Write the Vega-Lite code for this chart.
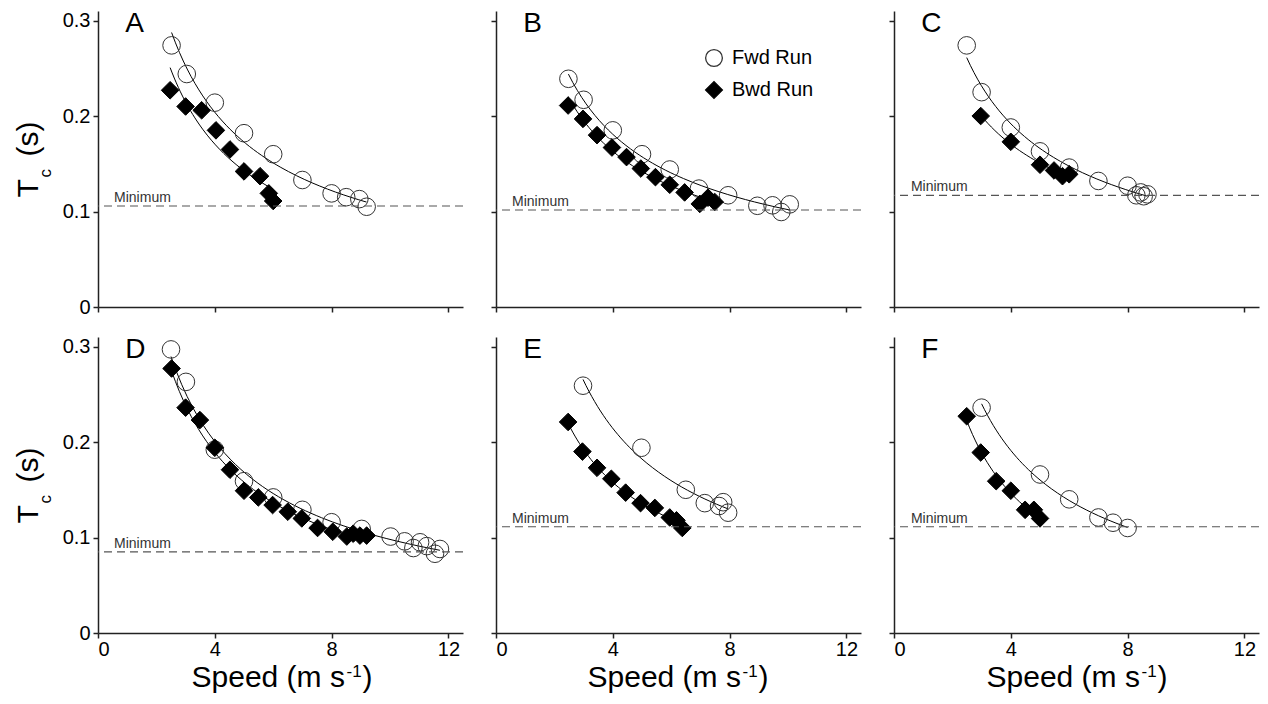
{
  "$schema": "https://vega.github.io/schema/vega-lite/v6.json",
  "background": "white",
  "padding": {"left": 13, "top": 10, "right": 5, "bottom": 5},
  "config": {
    "font": "Liberation Sans",
    "view": {"stroke": null},
    "axis": {"grid": false, "domainColor": "#222", "domainWidth": 1.5, "tickColor": "#222", "tickWidth": 1.5, "tickSize": 5, "labelFontSize": 20, "labelColor": "black", "labelPadding": 3, "labelFont": "Liberation Sans", "titleFont": "Liberation Sans", "titleColor": "black", "titleFontWeight": "normal"},
    "axisX": {"labelPadding": 1}
  },
  "datasets": {
    "pts": [
      {"p":"A","run":"Fwd Run","speed":2.52,"tc":0.274},{"p":"A","run":"Fwd Run","speed":3.04,"tc":0.244},{"p":"A","run":"Fwd Run","speed":4.0,"tc":0.214},{"p":"A","run":"Fwd Run","speed":5.0,"tc":0.182},{"p":"A","run":"Fwd Run","speed":6.0,"tc":0.160},{"p":"A","run":"Fwd Run","speed":7.0,"tc":0.133},{"p":"A","run":"Fwd Run","speed":8.0,"tc":0.119},{"p":"A","run":"Fwd Run","speed":8.5,"tc":0.115},{"p":"A","run":"Fwd Run","speed":8.95,"tc":0.113},{"p":"A","run":"Fwd Run","speed":9.2,"tc":0.105},
      {"p":"A","run":"Bwd Run","speed":2.47,"tc":0.227},{"p":"A","run":"Bwd Run","speed":3.0,"tc":0.210},{"p":"A","run":"Bwd Run","speed":3.55,"tc":0.206},{"p":"A","run":"Bwd Run","speed":4.04,"tc":0.185},{"p":"A","run":"Bwd Run","speed":4.52,"tc":0.165},{"p":"A","run":"Bwd Run","speed":5.0,"tc":0.142},{"p":"A","run":"Bwd Run","speed":5.55,"tc":0.137},{"p":"A","run":"Bwd Run","speed":5.85,"tc":0.119},{"p":"A","run":"Bwd Run","speed":6.0,"tc":0.111},
      {"p":"B","run":"Fwd Run","speed":2.48,"tc":0.239},{"p":"B","run":"Fwd Run","speed":3.0,"tc":0.217},{"p":"B","run":"Fwd Run","speed":4.0,"tc":0.185},{"p":"B","run":"Fwd Run","speed":5.0,"tc":0.160},{"p":"B","run":"Fwd Run","speed":5.95,"tc":0.144},{"p":"B","run":"Fwd Run","speed":6.95,"tc":0.124},{"p":"B","run":"Fwd Run","speed":7.95,"tc":0.117},{"p":"B","run":"Fwd Run","speed":8.95,"tc":0.106},{"p":"B","run":"Fwd Run","speed":9.47,"tc":0.1065},{"p":"B","run":"Fwd Run","speed":9.77,"tc":0.0995},{"p":"B","run":"Fwd Run","speed":10.06,"tc":0.1075},
      {"p":"B","run":"Bwd Run","speed":2.47,"tc":0.211},{"p":"B","run":"Bwd Run","speed":2.98,"tc":0.197},{"p":"B","run":"Bwd Run","speed":3.46,"tc":0.180},{"p":"B","run":"Bwd Run","speed":3.97,"tc":0.167},{"p":"B","run":"Bwd Run","speed":4.47,"tc":0.157},{"p":"B","run":"Bwd Run","speed":4.96,"tc":0.145},{"p":"B","run":"Bwd Run","speed":5.46,"tc":0.136},{"p":"B","run":"Bwd Run","speed":5.95,"tc":0.128},{"p":"B","run":"Bwd Run","speed":6.46,"tc":0.120},{"p":"B","run":"Bwd Run","speed":6.98,"tc":0.108},{"p":"B","run":"Bwd Run","speed":7.26,"tc":0.1145},{"p":"B","run":"Bwd Run","speed":7.49,"tc":0.110},
      {"p":"C","run":"Fwd Run","speed":2.49,"tc":0.274},{"p":"C","run":"Fwd Run","speed":3.0,"tc":0.225},{"p":"C","run":"Fwd Run","speed":4.0,"tc":0.188},{"p":"C","run":"Fwd Run","speed":5.0,"tc":0.163},{"p":"C","run":"Fwd Run","speed":6.0,"tc":0.146},{"p":"C","run":"Fwd Run","speed":7.0,"tc":0.132},{"p":"C","run":"Fwd Run","speed":8.0,"tc":0.127},{"p":"C","run":"Fwd Run","speed":8.3,"tc":0.117},{"p":"C","run":"Fwd Run","speed":8.45,"tc":0.120},{"p":"C","run":"Fwd Run","speed":8.55,"tc":0.116},{"p":"C","run":"Fwd Run","speed":8.68,"tc":0.118},
      {"p":"C","run":"Bwd Run","speed":2.97,"tc":0.200},{"p":"C","run":"Bwd Run","speed":4.0,"tc":0.173},{"p":"C","run":"Bwd Run","speed":5.0,"tc":0.149},{"p":"C","run":"Bwd Run","speed":5.48,"tc":0.143},{"p":"C","run":"Bwd Run","speed":5.77,"tc":0.137},{"p":"C","run":"Bwd Run","speed":6.0,"tc":0.139},
      {"p":"D","run":"Fwd Run","speed":2.5,"tc":0.297},{"p":"D","run":"Fwd Run","speed":3.01,"tc":0.263},{"p":"D","run":"Fwd Run","speed":4.0,"tc":0.192},{"p":"D","run":"Fwd Run","speed":5.0,"tc":0.159},{"p":"D","run":"Fwd Run","speed":6.0,"tc":0.142},{"p":"D","run":"Fwd Run","speed":7.0,"tc":0.129},{"p":"D","run":"Fwd Run","speed":8.0,"tc":0.116},{"p":"D","run":"Fwd Run","speed":9.03,"tc":0.109},{"p":"D","run":"Fwd Run","speed":10.02,"tc":0.101},{"p":"D","run":"Fwd Run","speed":10.5,"tc":0.096},{"p":"D","run":"Fwd Run","speed":10.8,"tc":0.089},{"p":"D","run":"Fwd Run","speed":11.03,"tc":0.095},{"p":"D","run":"Fwd Run","speed":11.26,"tc":0.091},{"p":"D","run":"Fwd Run","speed":11.54,"tc":0.083},{"p":"D","run":"Fwd Run","speed":11.71,"tc":0.088},
      {"p":"D","run":"Bwd Run","speed":2.52,"tc":0.277},{"p":"D","run":"Bwd Run","speed":3.0,"tc":0.236},{"p":"D","run":"Bwd Run","speed":3.49,"tc":0.223},{"p":"D","run":"Bwd Run","speed":4.0,"tc":0.194},{"p":"D","run":"Bwd Run","speed":4.52,"tc":0.171},{"p":"D","run":"Bwd Run","speed":5.0,"tc":0.149},{"p":"D","run":"Bwd Run","speed":5.49,"tc":0.142},{"p":"D","run":"Bwd Run","speed":5.98,"tc":0.134},{"p":"D","run":"Bwd Run","speed":6.5,"tc":0.127},{"p":"D","run":"Bwd Run","speed":6.98,"tc":0.120},{"p":"D","run":"Bwd Run","speed":7.52,"tc":0.110},{"p":"D","run":"Bwd Run","speed":8.04,"tc":0.106},{"p":"D","run":"Bwd Run","speed":8.52,"tc":0.101},{"p":"D","run":"Bwd Run","speed":8.74,"tc":0.104},{"p":"D","run":"Bwd Run","speed":8.97,"tc":0.102},{"p":"D","run":"Bwd Run","speed":9.2,"tc":0.102},
      {"p":"E","run":"Fwd Run","speed":2.98,"tc":0.259},{"p":"E","run":"Fwd Run","speed":4.98,"tc":0.194},{"p":"E","run":"Fwd Run","speed":6.5,"tc":0.150},{"p":"E","run":"Fwd Run","speed":7.15,"tc":0.136},{"p":"E","run":"Fwd Run","speed":7.64,"tc":0.133},{"p":"E","run":"Fwd Run","speed":7.78,"tc":0.137},{"p":"E","run":"Fwd Run","speed":7.95,"tc":0.126},
      {"p":"E","run":"Bwd Run","speed":2.47,"tc":0.221},{"p":"E","run":"Bwd Run","speed":2.96,"tc":0.190},{"p":"E","run":"Bwd Run","speed":3.46,"tc":0.173},{"p":"E","run":"Bwd Run","speed":3.95,"tc":0.1615},{"p":"E","run":"Bwd Run","speed":4.44,"tc":0.147},{"p":"E","run":"Bwd Run","speed":4.95,"tc":0.136},{"p":"E","run":"Bwd Run","speed":5.44,"tc":0.131},{"p":"E","run":"Bwd Run","speed":5.95,"tc":0.121},{"p":"E","run":"Bwd Run","speed":6.18,"tc":0.118},{"p":"E","run":"Bwd Run","speed":6.38,"tc":0.110},
      {"p":"F","run":"Fwd Run","speed":3.0,"tc":0.236},{"p":"F","run":"Fwd Run","speed":5.0,"tc":0.166},{"p":"F","run":"Fwd Run","speed":6.0,"tc":0.140},{"p":"F","run":"Fwd Run","speed":7.0,"tc":0.121},{"p":"F","run":"Fwd Run","speed":7.5,"tc":0.1155},{"p":"F","run":"Fwd Run","speed":8.0,"tc":0.110},
      {"p":"F","run":"Bwd Run","speed":2.49,"tc":0.227},{"p":"F","run":"Bwd Run","speed":2.97,"tc":0.189},{"p":"F","run":"Bwd Run","speed":3.5,"tc":0.159},{"p":"F","run":"Bwd Run","speed":4.0,"tc":0.149},{"p":"F","run":"Bwd Run","speed":4.49,"tc":0.129},{"p":"F","run":"Bwd Run","speed":4.79,"tc":0.129},{"p":"F","run":"Bwd Run","speed":5.0,"tc":0.120}
    ],
    "mins": [
      {"p":"A","min":0.1058},{"p":"B","min":0.1016},{"p":"C","min":0.1169},
      {"p":"D","min":0.0849},{"p":"E","min":0.1113},{"p":"F","min":0.1113}
    ]
  },
  "columns": 3,
  "bounds": "flush",
  "spacing": {"row": 30, "column": 33},
  "concat": [
    {
      "width": 365, "height": 296,
      "layer": [
        {"layer": [
          {"data": {"name": "pts"}, "transform": [{"filter": "datum.p === 'A'"}, {"regression": "tc", "on": "speed", "groupby": ["run"], "method": "pow"}],
           "mark": {"type": "line", "color": "black", "strokeWidth": 1},
           "encoding": {
             "x": {"field": "speed", "type": "quantitative", "scale": {"domain": [0, 12.5], "nice": false, "zero": false}, "axis": {"values": [0, 4, 8, 12], "labels": false, "title": null, "encode": {"ticks": {"update": {"y2": {"value": -5}}}}}},
             "y": {"field": "tc", "type": "quantitative", "scale": {"domain": [0, 0.31], "nice": false}, "axis": {"values": [0, 0.1, 0.2, 0.3], "format": "~g", "title": "T", "titleFontSize": 30, "titleAngle": 270, "titleAlign": "left", "titleBaseline": "alphabetic", "titleX": -61, "titleY": 186, "encode": {"ticks": {"update": {"x2": {"value": 5}}}}}},
             "detail": {"field": "run"}}},
          {"data": {"name": "pts"}, "transform": [{"filter": "datum.p === 'A'"}],
           "mark": {"type": "point", "size": 310, "strokeWidth": 1, "opacity": 1},
           "encoding": {
             "x": {"field": "speed", "type": "quantitative"},
             "y": {"field": "tc", "type": "quantitative"},
             "shape": {"field": "run", "type": "nominal", "scale": {"domain": ["Fwd Run", "Bwd Run"], "range": ["circle", "diamond"]}, "legend": {"title": null, "orient": "none", "legendX": 606, "legendY": 37, "labelFontSize": 20, "labelColor": "black", "symbolSize": 280, "symbolStrokeWidth": 1.3, "rowPadding": 10, "labelOffset": 8, "padding": 0}},
             "fill": {"field": "run", "type": "nominal", "scale": {"domain": ["Fwd Run", "Bwd Run"], "range": ["transparent", "black"]}},
             "stroke": {"field": "run", "type": "nominal", "scale": {"domain": ["Fwd Run", "Bwd Run"], "range": ["#333", "black"]}}}},
          {"data": {"name": "mins"}, "transform": [{"filter": "datum.p === 'A'"}],
           "mark": {"type": "rule", "color": "#555", "strokeWidth": 1.2, "strokeDash": [8, 5]},
           "encoding": {"y": {"field": "min", "type": "quantitative"}}}
        ]},
        {"data": {"name": "mins"}, "transform": [{"filter": "datum.p === 'A'"}],
         "mark": {"type": "text", "fontSize": 28, "align": "left", "baseline": "alphabetic", "color": "black"},
         "encoding": {
           "x": {"datum": 0.93, "type": "quantitative", "axis": null},
           "y": {"datum": 0.288, "type": "quantitative", "axis": {"orient": "left", "values": [], "domain": false, "ticks": false, "labels": false, "title": "c", "titleFontSize": 17, "titleAngle": 270, "titleAlign": "left", "titleBaseline": "alphabetic", "titleX": -48, "titleY": 166}},
           "text": {"field": "p"}}},
        {"data": {"name": "mins"}, "transform": [{"filter": "datum.p === 'A'"}],
         "mark": {"type": "text", "text": "Minimum", "fontSize": 14, "align": "left", "baseline": "alphabetic", "dy": -4, "color": "#333"},
         "encoding": {
           "x": {"datum": 0.55, "type": "quantitative", "axis": null},
           "y": {"field": "min", "type": "quantitative", "axis": {"orient": "left", "values": [], "domain": false, "ticks": false, "labels": false, "title": "(s)", "titleFontSize": 30, "titleAngle": 270, "titleAlign": "left", "titleBaseline": "alphabetic", "titleX": -61, "titleY": 145}}}}
      ],
      "resolve": {"axis": {"x": "independent", "y": "independent"}}
    },
    {
      "width": 365, "height": 296,
      "layer": [
        {"data": {"name": "pts"}, "transform": [{"filter": "datum.p === 'B'"}, {"regression": "tc", "on": "speed", "groupby": ["run"], "method": "pow"}],
         "mark": {"type": "line", "color": "black", "strokeWidth": 1},
         "encoding": {
           "x": {"field": "speed", "type": "quantitative", "scale": {"domain": [0, 12.5], "nice": false, "zero": false}, "axis": {"values": [0, 4, 8, 12], "labels": false, "title": null, "encode": {"ticks": {"update": {"y2": {"value": -5}}}}}},
           "y": {"field": "tc", "type": "quantitative", "scale": {"domain": [0, 0.31], "nice": false}, "axis": {"values": [0, 0.1, 0.2, 0.3], "labels": false, "title": null, "encode": {"ticks": {"update": {"x2": {"value": 5}}}}}},
           "detail": {"field": "run"}}},
        {"data": {"name": "pts"}, "transform": [{"filter": "datum.p === 'B'"}],
         "mark": {"type": "point", "size": 310, "strokeWidth": 1, "opacity": 1},
         "encoding": {
           "x": {"field": "speed", "type": "quantitative"},
           "y": {"field": "tc", "type": "quantitative"},
           "shape": {"field": "run", "type": "nominal", "scale": {"domain": ["Fwd Run", "Bwd Run"], "range": ["circle", "diamond"]}, "legend": {"title": null, "orient": "none", "legendX": 606, "legendY": 37, "labelFontSize": 20, "labelColor": "black", "symbolSize": 280, "symbolStrokeWidth": 1.3, "rowPadding": 10, "labelOffset": 8, "padding": 0}},
           "fill": {"field": "run", "type": "nominal", "scale": {"domain": ["Fwd Run", "Bwd Run"], "range": ["transparent", "black"]}},
           "stroke": {"field": "run", "type": "nominal", "scale": {"domain": ["Fwd Run", "Bwd Run"], "range": ["#333", "black"]}}}},
        {"data": {"name": "mins"}, "transform": [{"filter": "datum.p === 'B'"}],
         "mark": {"type": "rule", "color": "#555", "strokeWidth": 1.2, "strokeDash": [8, 5]},
         "encoding": {"y": {"field": "min", "type": "quantitative"}}},
        {"data": {"name": "mins"}, "transform": [{"filter": "datum.p === 'B'"}],
         "mark": {"type": "text", "text": "Minimum", "fontSize": 14, "align": "left", "baseline": "alphabetic", "dy": -4, "color": "#333"},
         "encoding": {
           "x": {"datum": 0.55, "type": "quantitative"},
           "y": {"field": "min", "type": "quantitative"}}},
        {"data": {"name": "mins"}, "transform": [{"filter": "datum.p === 'B'"}],
         "mark": {"type": "text", "fontSize": 28, "align": "left", "baseline": "alphabetic", "color": "black"},
         "encoding": {
           "x": {"datum": 0.93, "type": "quantitative"},
           "y": {"datum": 0.288, "type": "quantitative"},
           "text": {"field": "p"}}}
      ]
    },
    {
      "width": 365, "height": 296,
      "layer": [
        {"data": {"name": "pts"}, "transform": [{"filter": "datum.p === 'C'"}, {"regression": "tc", "on": "speed", "groupby": ["run"], "method": "pow"}],
         "mark": {"type": "line", "color": "black", "strokeWidth": 1},
         "encoding": {
           "x": {"field": "speed", "type": "quantitative", "scale": {"domain": [0, 12.5], "nice": false, "zero": false}, "axis": {"values": [0, 4, 8, 12], "labels": false, "title": null, "encode": {"ticks": {"update": {"y2": {"value": -5}}}}}},
           "y": {"field": "tc", "type": "quantitative", "scale": {"domain": [0, 0.31], "nice": false}, "axis": {"values": [0, 0.1, 0.2, 0.3], "labels": false, "title": null, "encode": {"ticks": {"update": {"x2": {"value": 5}}}}}},
           "detail": {"field": "run"}}},
        {"data": {"name": "pts"}, "transform": [{"filter": "datum.p === 'C'"}],
         "mark": {"type": "point", "size": 310, "strokeWidth": 1, "opacity": 1},
         "encoding": {
           "x": {"field": "speed", "type": "quantitative"},
           "y": {"field": "tc", "type": "quantitative"},
           "shape": {"field": "run", "type": "nominal", "scale": {"domain": ["Fwd Run", "Bwd Run"], "range": ["circle", "diamond"]}, "legend": {"title": null, "orient": "none", "legendX": 606, "legendY": 37, "labelFontSize": 20, "labelColor": "black", "symbolSize": 280, "symbolStrokeWidth": 1.3, "rowPadding": 10, "labelOffset": 8, "padding": 0}},
           "fill": {"field": "run", "type": "nominal", "scale": {"domain": ["Fwd Run", "Bwd Run"], "range": ["transparent", "black"]}},
           "stroke": {"field": "run", "type": "nominal", "scale": {"domain": ["Fwd Run", "Bwd Run"], "range": ["#333", "black"]}}}},
        {"data": {"name": "mins"}, "transform": [{"filter": "datum.p === 'C'"}],
         "mark": {"type": "rule", "color": "#555", "strokeWidth": 1.2, "strokeDash": [8, 5]},
         "encoding": {"y": {"field": "min", "type": "quantitative"}}},
        {"data": {"name": "mins"}, "transform": [{"filter": "datum.p === 'C'"}],
         "mark": {"type": "text", "text": "Minimum", "fontSize": 14, "align": "left", "baseline": "alphabetic", "dy": -4, "color": "#333"},
         "encoding": {
           "x": {"datum": 0.58, "type": "quantitative"},
           "y": {"field": "min", "type": "quantitative"}}},
        {"data": {"name": "mins"}, "transform": [{"filter": "datum.p === 'C'"}],
         "mark": {"type": "text", "fontSize": 28, "align": "left", "baseline": "alphabetic", "color": "black"},
         "encoding": {
           "x": {"datum": 0.93, "type": "quantitative"},
           "y": {"datum": 0.288, "type": "quantitative"},
           "text": {"field": "p"}}}
      ]
    },
    {
      "width": 365, "height": 296,
      "layer": [
        {"layer": [
          {"data": {"name": "pts"}, "transform": [{"filter": "datum.p === 'D'"}, {"regression": "tc", "on": "speed", "groupby": ["run"], "method": "pow"}],
           "mark": {"type": "line", "color": "black", "strokeWidth": 1},
           "encoding": {
             "x": {"field": "speed", "type": "quantitative", "scale": {"domain": [0, 12.5], "nice": false, "zero": false}, "axis": {"values": [0, 4, 8, 12], "title": "Speed (m s", "titleFontSize": 30, "titleAlign": "left", "titleBaseline": "alphabetic", "titleX": 93, "titleY": 53, "encode": {"ticks": {"update": {"y2": {"value": -5}}}}}},
             "y": {"field": "tc", "type": "quantitative", "scale": {"domain": [0, 0.31], "nice": false}, "axis": {"values": [0, 0.1, 0.2, 0.3], "format": "~g", "title": "T", "titleFontSize": 30, "titleAngle": 270, "titleAlign": "left", "titleBaseline": "alphabetic", "titleX": -61, "titleY": 186, "encode": {"ticks": {"update": {"x2": {"value": 5}}}}}},
             "detail": {"field": "run"}}},
          {"data": {"name": "pts"}, "transform": [{"filter": "datum.p === 'D'"}],
           "mark": {"type": "point", "size": 310, "strokeWidth": 1, "opacity": 1},
           "encoding": {
             "x": {"field": "speed", "type": "quantitative"},
             "y": {"field": "tc", "type": "quantitative"},
             "shape": {"field": "run", "type": "nominal", "scale": {"domain": ["Fwd Run", "Bwd Run"], "range": ["circle", "diamond"]}, "legend": {"title": null, "orient": "none", "legendX": 606, "legendY": 37, "labelFontSize": 20, "labelColor": "black", "symbolSize": 280, "symbolStrokeWidth": 1.3, "rowPadding": 10, "labelOffset": 8, "padding": 0}},
             "fill": {"field": "run", "type": "nominal", "scale": {"domain": ["Fwd Run", "Bwd Run"], "range": ["transparent", "black"]}},
             "stroke": {"field": "run", "type": "nominal", "scale": {"domain": ["Fwd Run", "Bwd Run"], "range": ["#333", "black"]}}}},
          {"data": {"name": "mins"}, "transform": [{"filter": "datum.p === 'D'"}],
           "mark": {"type": "rule", "color": "#555", "strokeWidth": 1.2, "strokeDash": [8, 5]},
           "encoding": {"y": {"field": "min", "type": "quantitative"}}}
        ]},
        {"data": {"name": "mins"}, "transform": [{"filter": "datum.p === 'D'"}],
         "mark": {"type": "text", "fontSize": 28, "align": "left", "baseline": "alphabetic", "color": "black"},
         "encoding": {
           "x": {"datum": 0.93, "type": "quantitative", "axis": {"orient": "bottom", "values": [], "domain": false, "ticks": false, "labels": false, "title": "-1", "titleFontSize": 17, "titleAlign": "left", "titleBaseline": "alphabetic", "titleX": 248, "titleY": 43}},
           "y": {"datum": 0.288, "type": "quantitative", "axis": {"orient": "left", "values": [], "domain": false, "ticks": false, "labels": false, "title": "c", "titleFontSize": 17, "titleAngle": 270, "titleAlign": "left", "titleBaseline": "alphabetic", "titleX": -48, "titleY": 166}},
           "text": {"field": "p"}}},
        {"data": {"name": "mins"}, "transform": [{"filter": "datum.p === 'D'"}],
         "mark": {"type": "text", "text": "Minimum", "fontSize": 14, "align": "left", "baseline": "alphabetic", "dy": -4, "color": "#333"},
         "encoding": {
           "x": {"datum": 0.55, "type": "quantitative", "axis": {"orient": "bottom", "values": [], "domain": false, "ticks": false, "labels": false, "title": ")", "titleFontSize": 30, "titleAlign": "left", "titleBaseline": "alphabetic", "titleX": 264, "titleY": 53}},
           "y": {"field": "min", "type": "quantitative", "axis": {"orient": "left", "values": [], "domain": false, "ticks": false, "labels": false, "title": "(s)", "titleFontSize": 30, "titleAngle": 270, "titleAlign": "left", "titleBaseline": "alphabetic", "titleX": -61, "titleY": 145}}}}
      ],
      "resolve": {"axis": {"x": "independent", "y": "independent"}}
    },
    {
      "width": 365, "height": 296,
      "layer": [
        {"layer": [
          {"data": {"name": "pts"}, "transform": [{"filter": "datum.p === 'E'"}, {"regression": "tc", "on": "speed", "groupby": ["run"], "method": "pow"}],
           "mark": {"type": "line", "color": "black", "strokeWidth": 1},
           "encoding": {
             "x": {"field": "speed", "type": "quantitative", "scale": {"domain": [0, 12.5], "nice": false, "zero": false}, "axis": {"values": [0, 4, 8, 12], "title": "Speed (m s", "titleFontSize": 30, "titleAlign": "left", "titleBaseline": "alphabetic", "titleX": 91, "titleY": 53, "encode": {"ticks": {"update": {"y2": {"value": -5}}}}}},
             "y": {"field": "tc", "type": "quantitative", "scale": {"domain": [0, 0.31], "nice": false}, "axis": {"values": [0, 0.1, 0.2, 0.3], "labels": false, "title": null, "encode": {"ticks": {"update": {"x2": {"value": 5}}}}}},
             "detail": {"field": "run"}}},
          {"data": {"name": "pts"}, "transform": [{"filter": "datum.p === 'E'"}],
           "mark": {"type": "point", "size": 310, "strokeWidth": 1, "opacity": 1},
           "encoding": {
             "x": {"field": "speed", "type": "quantitative"},
             "y": {"field": "tc", "type": "quantitative"},
             "shape": {"field": "run", "type": "nominal", "scale": {"domain": ["Fwd Run", "Bwd Run"], "range": ["circle", "diamond"]}, "legend": {"title": null, "orient": "none", "legendX": 606, "legendY": 37, "labelFontSize": 20, "labelColor": "black", "symbolSize": 280, "symbolStrokeWidth": 1.3, "rowPadding": 10, "labelOffset": 8, "padding": 0}},
             "fill": {"field": "run", "type": "nominal", "scale": {"domain": ["Fwd Run", "Bwd Run"], "range": ["transparent", "black"]}},
             "stroke": {"field": "run", "type": "nominal", "scale": {"domain": ["Fwd Run", "Bwd Run"], "range": ["#333", "black"]}}}},
          {"data": {"name": "mins"}, "transform": [{"filter": "datum.p === 'E'"}],
           "mark": {"type": "rule", "color": "#555", "strokeWidth": 1.2, "strokeDash": [8, 5]},
           "encoding": {"y": {"field": "min", "type": "quantitative"}}}
        ]},
        {"data": {"name": "mins"}, "transform": [{"filter": "datum.p === 'E'"}],
         "mark": {"type": "text", "fontSize": 28, "align": "left", "baseline": "alphabetic", "color": "black"},
         "encoding": {
           "x": {"datum": 0.93, "type": "quantitative", "axis": {"orient": "bottom", "values": [], "domain": false, "ticks": false, "labels": false, "title": "-1", "titleFontSize": 17, "titleAlign": "left", "titleBaseline": "alphabetic", "titleX": 246, "titleY": 43}},
           "y": {"datum": 0.288, "type": "quantitative", "axis": null},
           "text": {"field": "p"}}},
        {"data": {"name": "mins"}, "transform": [{"filter": "datum.p === 'E'"}],
         "mark": {"type": "text", "text": "Minimum", "fontSize": 14, "align": "left", "baseline": "alphabetic", "dy": -4, "color": "#333"},
         "encoding": {
           "x": {"datum": 0.55, "type": "quantitative", "axis": {"orient": "bottom", "values": [], "domain": false, "ticks": false, "labels": false, "title": ")", "titleFontSize": 30, "titleAlign": "left", "titleBaseline": "alphabetic", "titleX": 262, "titleY": 53}},
           "y": {"field": "min", "type": "quantitative", "axis": null}}}
      ],
      "resolve": {"axis": {"x": "independent", "y": "independent"}}
    },
    {
      "width": 365, "height": 296,
      "layer": [
        {"layer": [
          {"data": {"name": "pts"}, "transform": [{"filter": "datum.p === 'F'"}, {"regression": "tc", "on": "speed", "groupby": ["run"], "method": "pow"}],
           "mark": {"type": "line", "color": "black", "strokeWidth": 1},
           "encoding": {
             "x": {"field": "speed", "type": "quantitative", "scale": {"domain": [0, 12.5], "nice": false, "zero": false}, "axis": {"values": [0, 4, 8, 12], "title": "Speed (m s", "titleFontSize": 30, "titleAlign": "left", "titleBaseline": "alphabetic", "titleX": 92, "titleY": 53, "encode": {"ticks": {"update": {"y2": {"value": -5}}}}}},
             "y": {"field": "tc", "type": "quantitative", "scale": {"domain": [0, 0.31], "nice": false}, "axis": {"values": [0, 0.1, 0.2, 0.3], "labels": false, "title": null, "encode": {"ticks": {"update": {"x2": {"value": 5}}}}}},
             "detail": {"field": "run"}}},
          {"data": {"name": "pts"}, "transform": [{"filter": "datum.p === 'F'"}],
           "mark": {"type": "point", "size": 310, "strokeWidth": 1, "opacity": 1},
           "encoding": {
             "x": {"field": "speed", "type": "quantitative"},
             "y": {"field": "tc", "type": "quantitative"},
             "shape": {"field": "run", "type": "nominal", "scale": {"domain": ["Fwd Run", "Bwd Run"], "range": ["circle", "diamond"]}, "legend": {"title": null, "orient": "none", "legendX": 606, "legendY": 37, "labelFontSize": 20, "labelColor": "black", "symbolSize": 280, "symbolStrokeWidth": 1.3, "rowPadding": 10, "labelOffset": 8, "padding": 0}},
             "fill": {"field": "run", "type": "nominal", "scale": {"domain": ["Fwd Run", "Bwd Run"], "range": ["transparent", "black"]}},
             "stroke": {"field": "run", "type": "nominal", "scale": {"domain": ["Fwd Run", "Bwd Run"], "range": ["#333", "black"]}}}},
          {"data": {"name": "mins"}, "transform": [{"filter": "datum.p === 'F'"}],
           "mark": {"type": "rule", "color": "#555", "strokeWidth": 1.2, "strokeDash": [8, 5]},
           "encoding": {"y": {"field": "min", "type": "quantitative"}}}
        ]},
        {"data": {"name": "mins"}, "transform": [{"filter": "datum.p === 'F'"}],
         "mark": {"type": "text", "fontSize": 28, "align": "left", "baseline": "alphabetic", "color": "black"},
         "encoding": {
           "x": {"datum": 0.93, "type": "quantitative", "axis": {"orient": "bottom", "values": [], "domain": false, "ticks": false, "labels": false, "title": "-1", "titleFontSize": 17, "titleAlign": "left", "titleBaseline": "alphabetic", "titleX": 247, "titleY": 43}},
           "y": {"datum": 0.288, "type": "quantitative", "axis": null},
           "text": {"field": "p"}}},
        {"data": {"name": "mins"}, "transform": [{"filter": "datum.p === 'F'"}],
         "mark": {"type": "text", "text": "Minimum", "fontSize": 14, "align": "left", "baseline": "alphabetic", "dy": -4, "color": "#333"},
         "encoding": {
           "x": {"datum": 0.58, "type": "quantitative", "axis": {"orient": "bottom", "values": [], "domain": false, "ticks": false, "labels": false, "title": ")", "titleFontSize": 30, "titleAlign": "left", "titleBaseline": "alphabetic", "titleX": 263, "titleY": 53}},
           "y": {"field": "min", "type": "quantitative", "axis": null}}}
      ],
      "resolve": {"axis": {"x": "independent", "y": "independent"}}
    }
  ]
}
